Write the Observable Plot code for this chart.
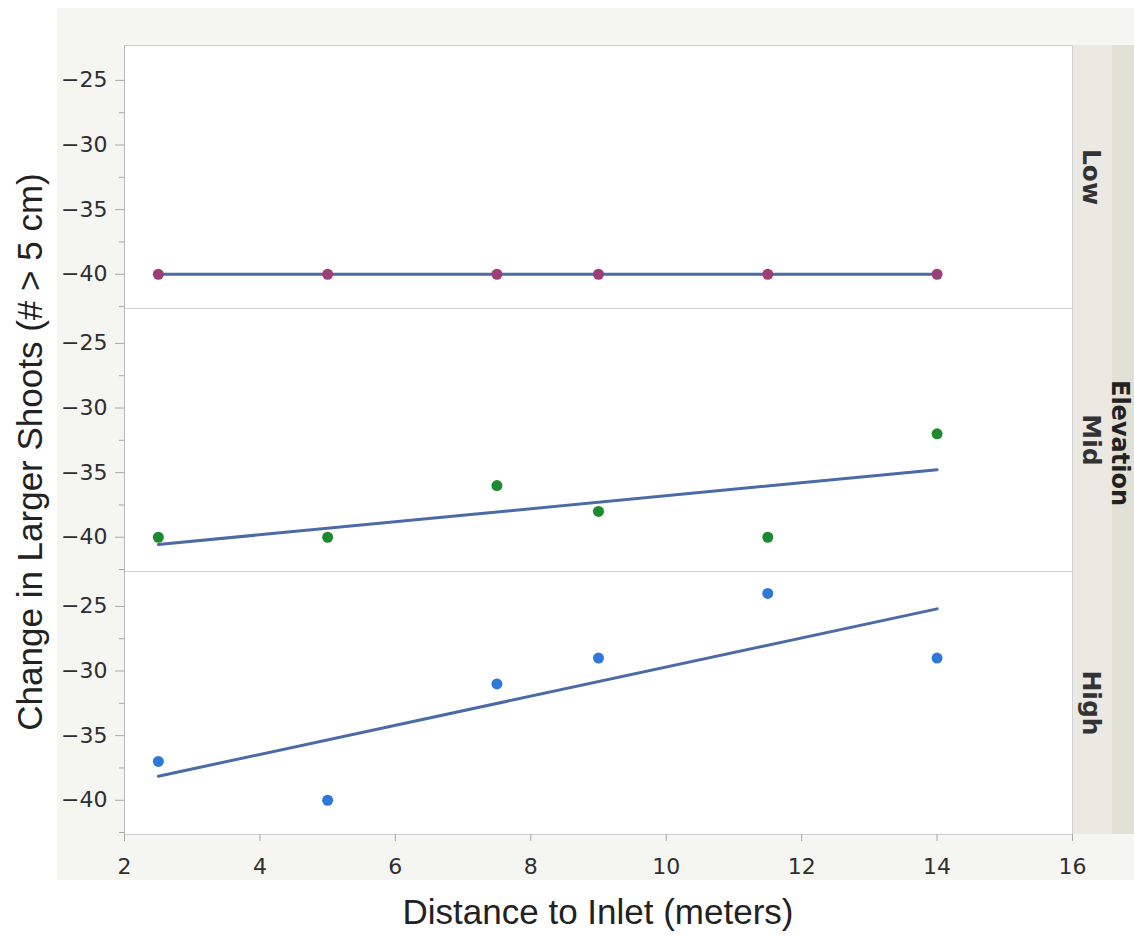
<!DOCTYPE html>
<html>
<head>
<meta charset="utf-8">
<script src="https://cdn.jsdelivr.net/npm/d3@7"></script>
<script src="https://cdn.jsdelivr.net/npm/@observablehq/plot@0.6"></script>
<style>
  html, body { margin: 0; padding: 0; background: #ffffff; }
  #wrap { position: relative; width: 1134px; height: 938px; overflow: hidden; }
  .bg { position: absolute; }
  #chart { position: absolute; left: 0; top: 0; }
  .title { position: absolute; font-family: "Liberation Sans", Arial, sans-serif; font-size: 35px; color: #222; white-space: nowrap; }
</style>
</head>
<body>
<div id="wrap">
  <div class="bg" style="left:57px;top:8px;width:1077px;height:872px;background:#f5f5f1;"></div>
  <div class="bg" style="left:1072px;top:45px;width:40px;height:789px;background:#ebe9e4;"></div>
  <div class="bg" style="left:1112px;top:45px;width:22px;height:789px;background:#e3e0d5;"></div>
  <div id="chart"></div>
  <div class="title" id="ytitle" style="left:30px;top:452px;transform:translate(-50%,-50%) rotate(-90deg);">Change in Larger Shoots (# &gt; 5 cm)</div>
  <div class="title" id="xtitle" style="left:598px;top:912px;transform:translate(-50%,-50%);">Distance to Inlet (meters)</div>
  <div class="title" id="ftitle" style="left:1120px;top:443px;transform:translate(-50%,-50%) rotate(90deg);font-family:'DejaVu Sans',sans-serif;font-weight:bold;font-size:24px;line-height:24px;color:#222;">Elevation</div>
</div>
<script>
// ---- data ----
const elevations = ["Low", "Mid", "High"];
const distances = [2.5, 5, 7.5, 9, 11.5, 14];
const lowValues = [-40, -40, -40, -40, -40, -40];
const midValues = [-40, -40, -36, -38, -40, -32];
const highValues = [-37, -40, -31, -29, -24, -29];
const xTicks = [2, 4, 6, 8, 10, 12, 14, 16];
const yTicks = [-40, -35, -30, -25];
const yMinorTicks = [-42.5, -37.5, -32.5, -27.5];
const dotColors = ["#9c3f78", "#1e8a2f", "#2f78d9"];

const seriesValues = [lowValues, midValues, highValues];
const data = elevations.flatMap((e, i) =>
  distances.map((d, j) => ({elevation: e, distance: d, change: seriesValues[i][j]}))
);

const chart = Plot.plot({
  width: 1134,
  height: 938,
  marginLeft: 124,
  marginRight: 62,
  marginTop: 45,
  marginBottom: 104,
  style: {background: "transparent", fontFamily: "DejaVu Sans, sans-serif", fontSize: "21px", color: "#333"},
  x: {domain: [2, 16], label: null},
  y: {domain: [-42.65, -22.3], label: null},
  fy: {domain: elevations, padding: 0, label: null, axis: null},
  color: {domain: elevations, range: dotColors},
  marks: [
    Plot.frame({fill: "white", stroke: "#d2d2d2"}),
    Plot.axisY({ticks: yTicks, tickSize: 9, tickPadding: 8, stroke: "#a8a8a8", fill: "#2e2e2e", fontSize: 22, label: null}),
    Plot.axisY({ticks: yMinorTicks, tickSize: 5, text: null, stroke: "#a8a8a8", label: null}),
    Plot.axisX({ticks: xTicks, tickSize: 7, tickPadding: 17, stroke: "#a8a8a8", fill: "#2e2e2e", fontSize: 22, label: null}),
    Plot.ruleX([2], {stroke: "#b8b8b8"}),
    Plot.linearRegressionY(data, {x: "distance", y: "change", fy: "elevation", stroke: "#4b6aa6", strokeWidth: 3, ci: 0}),
    Plot.dot(data, {x: "distance", y: "change", fy: "elevation", fill: "elevation", r: 5.5}),
    Plot.text(elevations, {fy: d => d, text: d => d, frameAnchor: "right", textAnchor: "middle", lineAnchor: "middle", dx: 18, rotate: 90, fontSize: 25, fontWeight: "bold", fill: "#333"})
  ]
});
document.getElementById("chart").appendChild(chart);
</script>
</body>
</html>
